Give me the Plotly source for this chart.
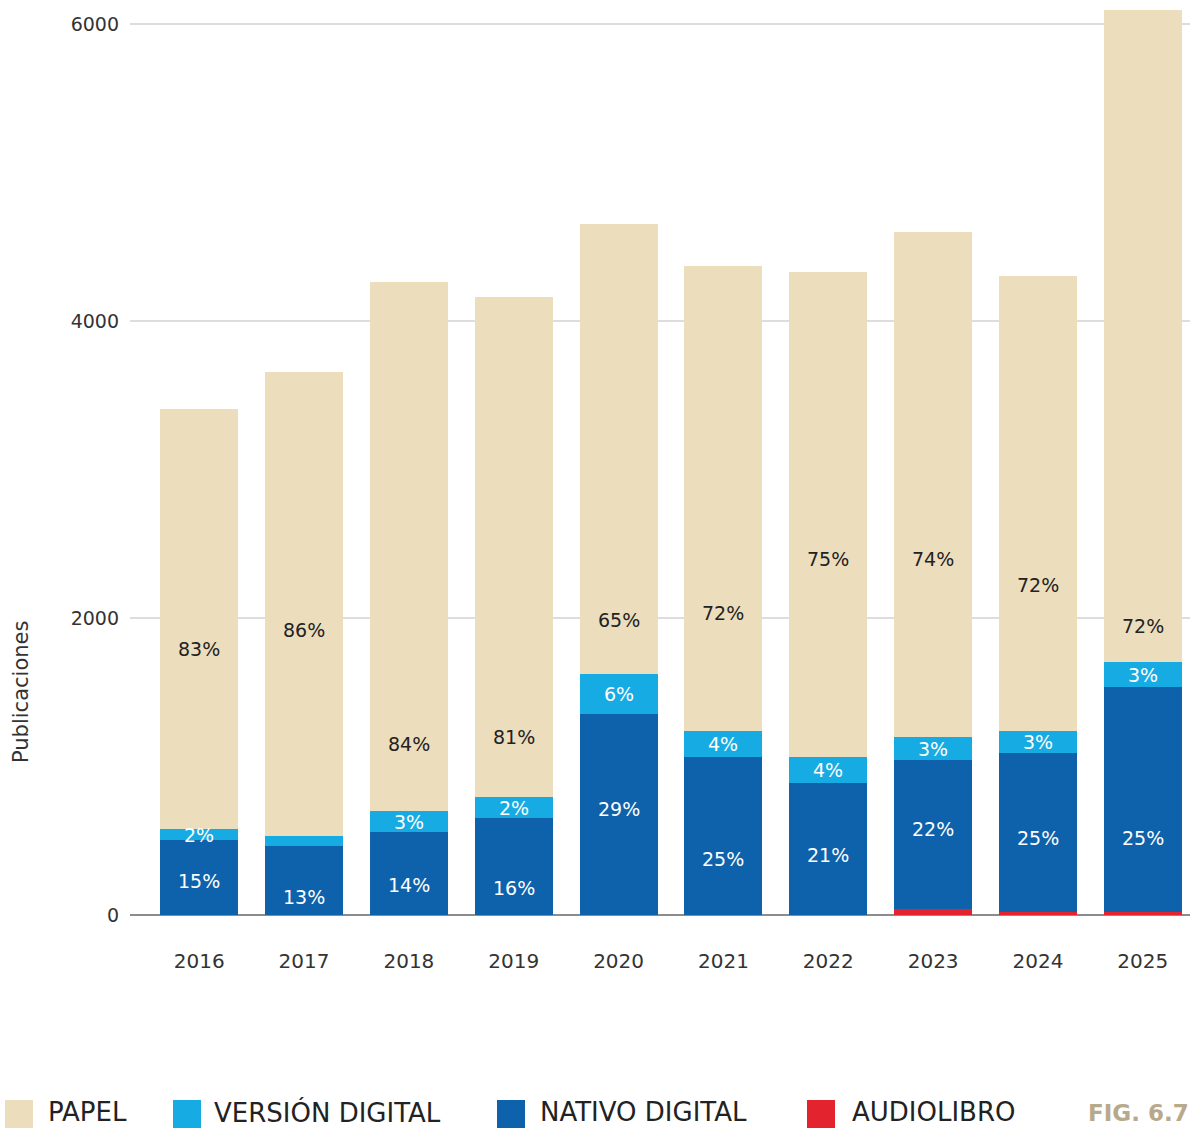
import plotly.graph_objects as go

# Publicaciones por año y formato
years = ["2016", "2017", "2018", "2019", "2020", "2021", "2022", "2023", "2024", "2025"]
audiolibro = [0, 0, 0, 0, 0, 0, 0, 40, 20, 20]
nativo = [505, 463, 557, 653, 1354, 1064, 889, 1002, 1069, 1515]
version = [74, 67, 142, 142, 269, 175, 175, 155, 148, 169]
papel = [2828, 3125, 3564, 3367, 3030, 3131, 3266, 3403, 3066, 4400]

# Porcentajes rotulados en cada segmento
papel_pct = ["83%", "86%", "84%", "81%", "65%", "72%", "75%", "74%", "72%", "72%"]
version_pct = ["2%", "", "3%", "2%", "6%", "4%", "4%", "3%", "3%", "3%"]
nativo_pct = ["15%", "13%", "14%", "16%", "29%", "25%", "21%", "22%", "25%", "25%"]

# Altura (en publicaciones) a la que se coloca cada rótulo
papel_label_y = [1792, 1920, 1152, 1199, 1988, 2035, 2398, 2398, 2223, 1947]
nativo_label_y = [229, 121, 202, 182, 714, 377, 404, 579, 519, 519]

series = [
    ("AUDIOLIBRO", audiolibro, "#e3242f"),
    ("NATIVO DIGITAL", nativo, "#0e62ab"),
    ("VERSIÓN DIGITAL", version, "#16abe2"),
    ("PAPEL", papel, "#ecddbd"),
]

FONT = "DejaVu Sans"
W, H = 1190, 1129
M_L, M_R, M_T, M_B = 130, 0, 10, 214
PW, PH = W - M_L - M_R, H - M_T - M_B


def px_x(px):
    return (px - M_L) / PW


def px_y(py):
    return (H - M_B - py) / PH


fig = go.Figure()
for name, vals, color in series:
    fig.add_trace(go.Bar(
        x=years, y=vals, name=name, marker=dict(color=color, line=dict(width=0)),
        width=0.744, showlegend=False, hoverinfo="x+y+name",
    ))

annotations = []
for i, yr in enumerate(years):
    annotations.append(dict(x=i, y=papel_label_y[i], xref="x", yref="y", text=papel_pct[i],
                            showarrow=False, xanchor="center", yanchor="middle",
                            font=dict(family=FONT, size=19, color="#222222")))
    annotations.append(dict(x=i, y=nativo_label_y[i], xref="x", yref="y", text=nativo_pct[i],
                            showarrow=False, xanchor="center", yanchor="middle",
                            font=dict(family=FONT, size=19, color="#ffffff")))
    if version_pct[i]:
        mid = audiolibro[i] + nativo[i] + version[i] / 2
        annotations.append(dict(x=i, y=mid, xref="x", yref="y", text=version_pct[i],
                                showarrow=False, xanchor="center", yanchor="middle",
                                font=dict(family=FONT, size=19, color="#ffffff")))

# Título del eje vertical
annotations.append(dict(xref="paper", yref="paper", x=px_x(21), y=px_y(692),
                        xanchor="center", yanchor="middle",
                        text="Publicaciones", textangle=-90, showarrow=False,
                        font=dict(family=FONT, size=21, color="#333333")))

# Leyenda inferior
shapes = []
legend_items = [
    ("PAPEL", "#ecddbd", 5, 47),
    ("VERSIÓN DIGITAL", "#16abe2", 173, 213),
    ("NATIVO DIGITAL", "#0e62ab", 497, 539),
    ("AUDIOLIBRO", "#e3242f", 807, 851),
]
for label, color, sq_x, tx_x in legend_items:
    shapes.append(dict(type="rect", xref="paper", yref="paper",
                       x0=px_x(sq_x), x1=px_x(sq_x + 28), y0=px_y(1128), y1=px_y(1100),
                       fillcolor=color, line=dict(width=0), layer="above"))
    annotations.append(dict(xref="paper", yref="paper", x=px_x(tx_x), y=px_y(1112),
                            xanchor="left", yanchor="middle", text=label, showarrow=False,
                            borderpad=0,
                            font=dict(family=FONT, size=26, color="#222222")))

annotations.append(dict(xref="paper", yref="paper", x=px_x(1087), y=px_y(1113),
                        xanchor="left", yanchor="middle", text="<b>FIG. 6.7</b>", showarrow=False,
                        borderpad=0,
                        font=dict(family=FONT, size=23, color="#b8a98a")))

fig.update_layout(
    width=W, height=H,
    margin=dict(l=M_L, r=M_R, t=M_T, b=M_B),
    barmode="stack", bargap=0.256,
    plot_bgcolor="white", paper_bgcolor="white",
    font=dict(family=FONT, size=19, color="#333333"),
    annotations=annotations, shapes=shapes,
    xaxis=dict(type="category", range=[-0.66, 9.45], showgrid=False,
               ticks="", ticklabelstandoff=32,
               tickfont=dict(family=FONT, size=20, color="#333333"),
               showline=False, zeroline=False),
    yaxis=dict(range=[0, 6097], tickvals=[0, 2000, 4000, 6000],
               showgrid=True, gridcolor="#dddddd", gridwidth=1.5,
               zeroline=True, zerolinecolor="#8c8c8c", zerolinewidth=2,
               ticks="", ticklabelstandoff=10,
               tickfont=dict(family=FONT, size=19, color="#333333")),
)

fig.write_html("out.html")
